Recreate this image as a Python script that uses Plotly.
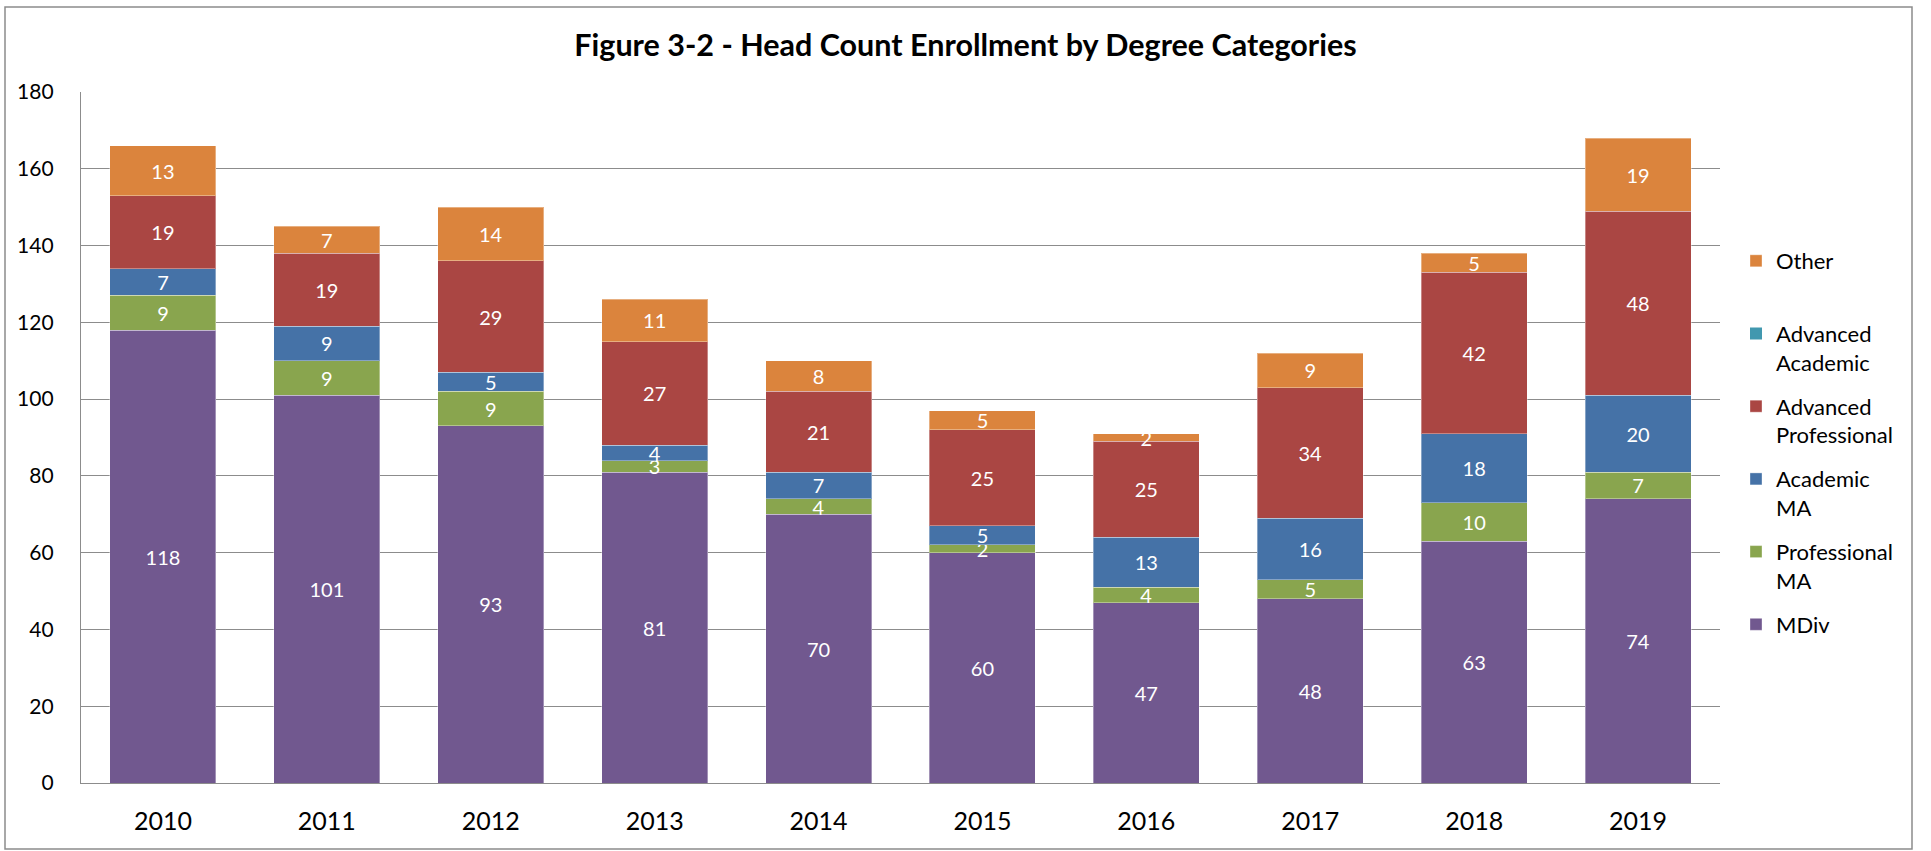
import plotly.graph_objects as go

# Enrollment head counts by degree category, per academic year
years = ["2010", "2011", "2012", "2013", "2014", "2015", "2016", "2017", "2018", "2019"]
mdiv = [118, 101, 93, 81, 70, 60, 47, 48, 63, 74]
professional_ma = [9, 9, 9, 3, 4, 2, 4, 5, 10, 7]
academic_ma = [7, 9, 5, 4, 7, 5, 13, 16, 18, 20]
advanced_professional = [19, 19, 29, 27, 21, 25, 25, 34, 42, 48]
advanced_academic = [0, 0, 0, 0, 0, 0, 0, 0, 0, 0]
other = [13, 7, 14, 11, 8, 5, 2, 9, 5, 19]

series = [
    ("MDiv", mdiv, "#71588F"),
    ("Professional<br>MA", professional_ma, "#89A54E"),
    ("Academic<br>MA", academic_ma, "#4572A7"),
    ("Advanced<br>Professional", advanced_professional, "#AA4643"),
    ("Advanced<br>Academic", advanced_academic, "#4198AF"),
    ("Other<br> ", other, "#DB843D"),
]

FONT = "Lato"
GRID = "#8c8c8c"

fig = go.Figure()
n = len(series)
for i, (name, vals, color) in enumerate(series):
    labels = [str(v) if v else "" for v in vals]
    fig.add_trace(go.Bar(
        x=years,
        y=vals,
        name=name,
        legendgroup=f"g{i}",
        legendrank=n - i,
        marker=dict(color=color,
                    line=dict(color="rgba(255,255,255,0.35)", width=1 if any(vals) else 0)),
        text=labels,
        texttemplate="%{text}",
        textposition="inside",
        textangle=0,
        insidetextanchor="middle",
        textfont=dict(family=FONT, size=20, color="white"),
    ))

# chart frame
fig.add_shape(type="rect", xref="paper", yref="paper",
              x0=(5 - 81) / 1639, x1=(1912 - 81) / 1639,
              y0=(783 - 849) / 691, y1=(783 - 7) / 691,
              line=dict(color=GRID, width=1.5), fillcolor="rgba(0,0,0,0)", layer="below")

fig.update_layout(
    width=1931, height=851,
    barmode="stack",
    bargap=0.353,
    plot_bgcolor="white",
    paper_bgcolor="white",
    margin=dict(l=81, r=211, t=92, b=68),
    title=dict(
        text="<b>Figure 3-2 - Head Count Enrollment by Degree Categories</b>",
        font=dict(family=FONT, size=30.5, color="black"),
        x=0.5, xanchor="center", xref="container",
        y=1 - 45 / 851, yanchor="middle", yref="container",
    ),
    legend=dict(
        x=(1736 - 81) / 1639, xanchor="left",
        y=(783 - 240) / 691, yanchor="top",
        traceorder="grouped",
        tracegroupgap=12.5,
        valign="top",
        font=dict(family=FONT, size=22, color="black"),
        bgcolor="rgba(0,0,0,0)",
    ),
    uniformtext=dict(mode="show", minsize=20),
    xaxis=dict(
        showline=True, linecolor=GRID, linewidth=1.3,
        showgrid=False, ticks="",
        tickfont=dict(family=FONT, size=25, color="black"),
        ticklabelstandoff=16,
    ),
    yaxis=dict(
        range=[0, 180], dtick=20,
        showline=True, linecolor=GRID, linewidth=1.3,
        showgrid=True, gridcolor=GRID, gridwidth=1.3,
        zeroline=False, ticks="",
        tickfont=dict(family=FONT, size=21, color="black"),
        ticklabelstandoff=22,
    ),
    showlegend=True,
)

fig.write_html("out.html")
